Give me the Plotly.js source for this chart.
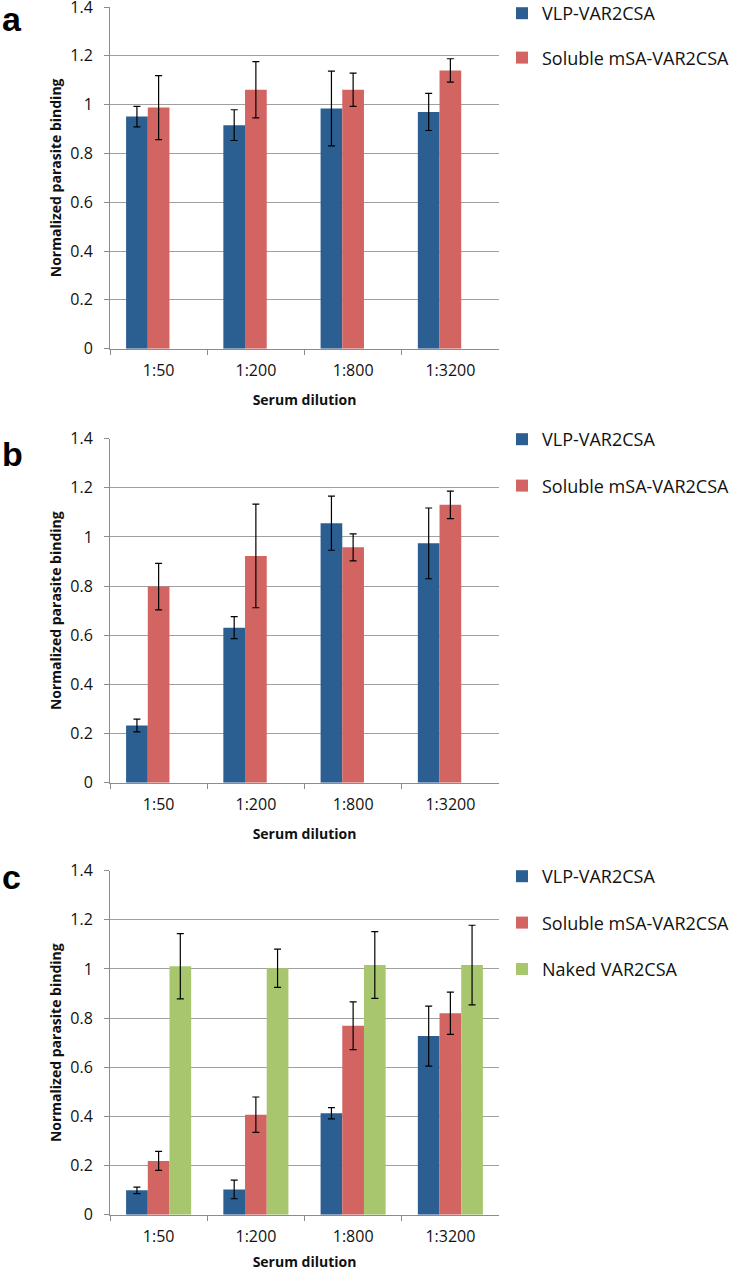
<!DOCTYPE html>
<html>
<head>
<meta charset="utf-8">
<script src="https://cdn.plot.ly/plotly-3.0.1.min.js"></script>
<style>html,body{margin:0;padding:0;background:#fff;}#chart{width:750px;height:1271px;}</style>
</head>
<body>
<div id="chart"></div>
<script>
// ---- data ----
const categories = ['1:50', '1:200', '1:800', '1:3200'];
const seriesNames = ['VLP-VAR2CSA', 'Soluble mSA-VAR2CSA', 'Naked VAR2CSA'];
const yTickVals = [0, 0.2, 0.4, 0.6, 0.8, 1, 1.2, 1.4];

const aVlp = [0.951, 0.916, 0.984, 0.970];
const aVlpErr = [0.042, 0.063, 0.153, 0.076];
const aSol = [0.988, 1.061, 1.061, 1.140];
const aSolErr = [0.131, 0.115, 0.068, 0.048];

const bVlp = [0.233, 0.631, 1.056, 0.974];
const bVlpErr = [0.026, 0.045, 0.110, 0.144];
const bSol = [0.798, 0.923, 0.958, 1.131];
const bSolErr = [0.095, 0.211, 0.055, 0.056];

const cVlp = [0.099, 0.103, 0.413, 0.727];
const cVlpErr = [0.013, 0.038, 0.023, 0.122];
const cSol = [0.219, 0.407, 0.769, 0.820];
const cSolErr = [0.039, 0.072, 0.097, 0.086];
const cNaked = [1.011, 1.003, 1.016, 1.016];
const cNakedErr = [0.133, 0.078, 0.136, 0.162];

// ---- style ----
const colors = ['#2B5E91', '#D26461', '#A8C66E'];
const W = 750, H = 1271;
const FONT = 'Open Sans, Lato, Liberation Sans, sans-serif';
const BW = 0.223;

function bar(name, y, err, color, xa, ya, leg, offset) {
  return {
    type: 'bar', name: name, x: categories, y: y,
    xaxis: xa, yaxis: ya, legend: leg,
    width: BW, offset: offset,
    marker: {color: color, line: {width: 0}},
    error_y: {type: 'data', array: err, visible: true, color: '#000', thickness: 1.2, width: 3.5},
    legendgroup: leg + name,
    hoverinfo: 'x+y+name'
  };
}

const data = [
  bar(seriesNames[0], aVlp, aVlpErr, colors[0], 'x', 'y', 'legend', -1.5 * BW),
  bar(seriesNames[1], aSol, aSolErr, colors[1], 'x', 'y', 'legend', -0.5 * BW),
  bar(seriesNames[0], bVlp, bVlpErr, colors[0], 'x2', 'y2', 'legend2', -1.5 * BW),
  bar(seriesNames[1], bSol, bSolErr, colors[1], 'x2', 'y2', 'legend2', -0.5 * BW),
  bar(seriesNames[0], cVlp, cVlpErr, colors[0], 'x3', 'y3', 'legend3', -1.5 * BW),
  bar(seriesNames[1], cSol, cSolErr, colors[1], 'x3', 'y3', 'legend3', -0.5 * BW),
  bar(seriesNames[2], cNaked, cNakedErr, colors[2], 'x3', 'y3', 'legend3', 0.5 * BW)
];

// pixel helpers
const px = v => v / W;
const py = v => 1 - v / H;

const xDom = [px(110), px(499)];
const panels = [
  {top: 7, bottom: 348.7},
  {top: 438.7, bottom: 782.7},
  {top: 870.7, bottom: 1214.7}
];

function xaxis(anchor) {
  return {
    domain: xDom, anchor: anchor, type: 'category', automargin: false,
    showline: true, linecolor: '#8c8c8c', linewidth: 1,
    ticks: 'outside', tickson: 'boundaries', ticklen: 5, tickcolor: '#8c8c8c',
    ticklabelstandoff: 7,
    tickfont: {family: FONT, size: 16, color: '#111'},
    showgrid: false, zeroline: false, fixedrange: true,
    title: {text: 'Serum dilution', font: {family: FONT, size: 14, color: '#111', weight: 700}, standoff: 15}
  };
}
function yaxis(anchor, p) {
  return {
    domain: [py(p.bottom), py(p.top)], anchor: anchor, automargin: false,
    range: [0, 1.4], tickvals: yTickVals, ticktext: yTickVals.map(v => String(v)),
    showline: true, linecolor: '#8c8c8c', linewidth: 1,
    ticks: 'outside', ticklen: 5, tickcolor: '#8c8c8c',
    ticklabelstandoff: 8, ticklabeloverflow: 'allow',
    tickfont: {family: FONT, size: 16, color: '#111'},
    showgrid: true, gridcolor: '#a0a0a0', gridwidth: 1, zeroline: false, fixedrange: true,
    title: {text: 'Normalized parasite binding', font: {family: FONT, size: 14, color: '#111', weight: 700}, standoff: 5}
  };
}

function legendAt(topPx, gap) {
  return {
    x: px(502), y: py(topPx), xanchor: 'left', yanchor: 'top',
    xref: 'paper', yref: 'paper',
    bgcolor: 'rgba(0,0,0,0)', borderwidth: 0,
    font: {family: FONT, size: 18, color: '#111'},
    traceorder: 'grouped', tracegroupgap: gap,
    itemclick: false, itemdoubleclick: false
  };
}

const letter = (t, xpx, ypx) => ({
  text: t, xref: 'paper', yref: 'paper', x: px(xpx), y: py(ypx),
  xanchor: 'left', yanchor: 'top', showarrow: false,
  font: {family: 'Liberation Sans, Arial, sans-serif', size: 34, color: '#000', weight: 700}
});

const layout = {
  width: W, height: H,
  margin: {l: 0, r: 0, t: 0, b: 0, autoexpand: false},
  paper_bgcolor: '#fff', plot_bgcolor: '#fff',
  barmode: 'group', showlegend: true,
  xaxis: xaxis('y'), yaxis: yaxis('x', panels[0]),
  xaxis2: xaxis('y2'), yaxis2: yaxis('x2', panels[1]),
  xaxis3: xaxis('y3'), yaxis3: yaxis('x3', panels[2]),
  legend: legendAt(-5, 18),
  legend2: legendAt(421, 20),
  legend3: legendAt(858, 20),
  annotations: [letter('a', 0, -2), letter('b', 0, 433), letter('c', 0, 856)]
};

Plotly.newPlot('chart', data, layout, {staticPlot: true, displayModeBar: false});
</script>
</body>
</html>
